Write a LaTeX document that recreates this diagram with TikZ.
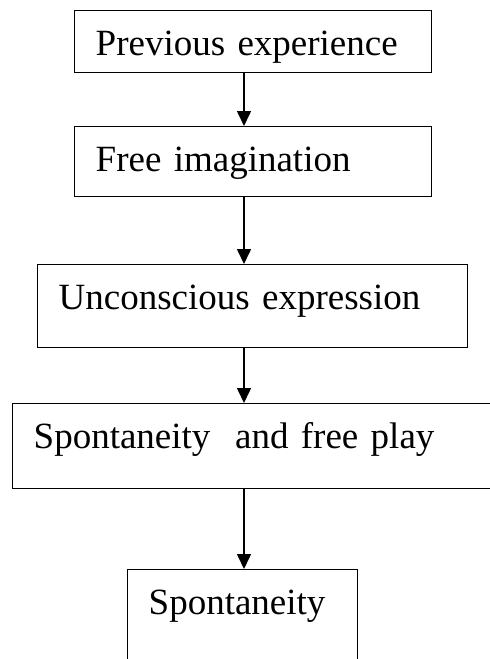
\documentclass[tikz,border=0pt]{standalone}
\usepackage{fontspec}
\setmainfont{Liberation Serif}
\usepackage{tikz}
\usetikzlibrary{arrows.meta,positioning}
\tikzset{
  ar/.style={-{Triangle[length=15pt,width=14pt]},line width=1.6pt},
  box/.style={draw,line width=1.4pt,anchor=north west,align=left,inner xsep=21pt,inner ysep=0pt,text height=45pt,font=\fontsize{37}{44}\selectfont}
}
\begin{document}
\begin{tikzpicture}[x=1pt,y=-1pt]
\clip (0,0) rectangle (490,659);
\coordinate (spine) at (244,0);
\node[box,text width=315pt,text depth=17pt] (prev) at (74,10) {Previous experience};
\node[box,text width=315pt,text depth=25pt] (imag) at (74,126) {Free imagination};
\node[box,text width=388pt,text depth=38pt] (uncon) at (37,264) {Unconscious expression};
\node[box,text width=446pt,text depth=40pt] (play) at (12,403) {Spontaneity\ \ and free play};
\node[box,text width=188pt,text depth=80pt] (spont) at (127,569) {Spontaneity};
\draw[ar] (prev.south -| spine) -- (imag.north -| spine);
\draw[ar] (imag.south -| spine) -- (uncon.north -| spine);
\draw[ar] (uncon.south -| spine) -- (play.north -| spine);
\draw[ar] (play.south -| spine) -- (spont.north -| spine);
\end{tikzpicture}
\end{document}
